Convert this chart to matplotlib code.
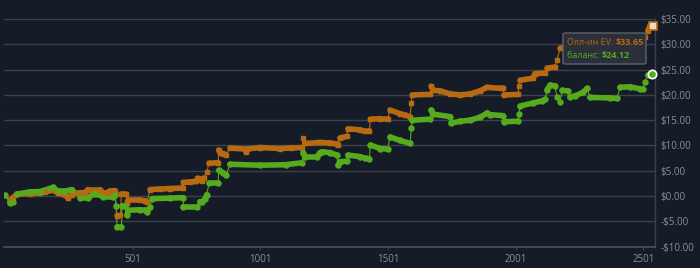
import matplotlib
matplotlib.use('Agg')
import matplotlib.pyplot as plt
from matplotlib.collections import LineCollection
import numpy as np

BG = '#161c27'
GRID = '#3a414c'
TXT = '#8a9099'
ORANGE = '#b86a12'
GREEN = '#55aa1e'

# all-in EV (orange)
ev_hands = [1, 20, 32, 48, 99, 138, 157, 189, 208, 236, 247, 263, 275, 314, 326, 373, 385, 404, 412, 432,
            436, 440, 453, 457, 475, 479, 483, 530, 549, 557, 569, 608, 647, 698, 700, 725, 750, 755, 764, 772,
            780, 791, 800, 836, 838, 843, 855, 867, 882, 941, 945, 950, 1000, 1078, 1120, 1165, 1168, 1176, 1235, 1274,
            1301, 1305, 1313, 1340, 1344, 1391, 1411, 1428, 1432, 1470, 1500, 1509, 1548, 1568, 1588, 1592, 1596, 1666, 1670, 1678,
            1705, 1745, 1784, 1823, 1862, 1889, 1940, 1952, 1955, 2011, 2014, 2018, 2069, 2077, 2116, 2124, 2155, 2163, 2175, 2230,
            2300, 2400, 2480, 2507, 2519, 2527, 2539]
ev_vals = [0.2, -0.8, -0.3, 0.4, 0.5, 0.6, 0.8, 1.2, 0.6, 0.2, -0.3, 0.3, 0.6, 0.7, 1.3, 1.3, 0.6, 0.7, 1.0, 1.1,
           -2.0, -3.9, -3.8, 0.4, 0.4, -1.4, -0.8, -0.8, -0.9, -1.2, 1.3, 1.4, 1.5, 1.6, 2.7, 2.8, 2.9, 3.5, 3.4, 3.0,
           3.6, 4.7, 6.5, 6.6, 9.1, 8.6, 8.4, 8.2, 9.5, 9.3, 8.8, 9.3, 9.6, 9.4, 9.5, 9.6, 11.5, 10.4, 10.6, 10.5,
           10.3, 10.1, 11.5, 11.8, 13.3, 13.1, 12.8, 12.9, 15.2, 15.3, 15.3, 17.0, 16.3, 16.0, 15.7, 18.4, 20.0, 20.1, 21.7, 20.9,
           20.8, 20.2, 20.0, 20.2, 20.8, 21.5, 21.3, 21.3, 20.0, 20.1, 21.7, 22.9, 23.3, 24.2, 24.3, 25.3, 25.5, 26.9, 29.2, 29.8,
           30.2, 30.8, 31.2, 31.4, 32.7, 33.6, 33.65]

# balance (green)
bal_hands = [1, 20, 32, 48, 99, 138, 189, 208, 236, 263, 294, 326, 353, 385, 424, 432, 436, 440, 457, 459,
             470, 479, 483, 530, 549, 557, 569, 577, 647, 698, 700, 753, 764, 772, 785, 791, 800, 836, 838, 855,
             867, 882, 1000, 1100, 1165, 1168, 1176, 1223, 1235, 1243, 1274, 1301, 1305, 1313, 1340, 1344, 1391, 1411, 1428, 1432,
             1470, 1500, 1509, 1548, 1588, 1592, 1596, 1666, 1670, 1678, 1745, 1748, 1784, 1823, 1862, 1889, 1901, 1952, 1955, 2011,
             2014, 2018, 2069, 2104, 2116, 2124, 2136, 2155, 2163, 2175, 2183, 2206, 2214, 2234, 2265, 2281, 2292, 2371, 2398, 2410,
             2449, 2488, 2500, 2507, 2519, 2535]
bal_vals = [0.2, -1.3, -1.2, 0.4, 0.85, 0.9, 1.7, 1.0, 1.0, 1.3, -0.3, -0.3, 0.5, -0.1, -0.1, 0.3, -2.0, -6.1, -6.1, -2.0,
            -2.0, -3.75, -2.8, -2.7, -2.8, -3.1, -2.2, -0.5, -0.4, -0.3, -2.1, -2.1, -1.1, -1.2, -0.5, 0.3, 2.5, 2.5, 5.1, 4.6,
            4.1, 6.3, 6.1, 6.2, 6.6, 8.6, 7.8, 7.8, 8.6, 8.75, 8.6, 8.1, 6.1, 6.8, 6.9, 8.1, 7.8, 7.5, 7.4, 10.1,
            9.4, 9.3, 11.7, 11.0, 10.4, 13.4, 15.0, 15.2, 17.0, 16.2, 15.7, 14.4, 14.8, 15.0, 15.6, 16.4, 16.1, 15.9, 14.7, 14.8,
            16.3, 17.8, 18.4, 18.8, 19.1, 21.0, 21.9, 21.8, 19.6, 18.6, 20.9, 20.8, 19.6, 19.8, 20.5, 21.3, 19.5, 19.4, 19.3, 21.5,
            21.6, 21.2, 21.1, 22.6, 23.9, 24.12]

y_ticks = [-10, -5, 0, 5, 10, 15, 20, 25, 30, 35]
x_ticks = [501, 1001, 1501, 2001, 2501]

plt.rcParams['font.family'] = ['Open Sans', 'DejaVu Sans']

fig = plt.figure(figsize=(7, 2.68), dpi=100, facecolor=BG)
ax = fig.add_axes([4/700, 1-246.7/268, 651/700, 227.7/268], facecolor=BG)


def draw_series(hands, vals, color, marker, ms):
    x = np.array(hands, dtype=float)
    y = np.array(vals, dtype=float)
    pts = np.column_stack([x, y]).reshape(-1, 1, 2)
    segs = np.concatenate([pts[:-1], pts[1:]], axis=1)
    # flat stretches look thick (dense markers), jumps are thin connectors
    widths = [4.0 if abs(b - a) < 1.0 else 0.8 for a, b in zip(y[:-1], y[1:])]
    ax.add_collection(LineCollection(segs, colors=color, linewidths=widths, zorder=3, capstyle='round'))
    ax.plot(x, y, linestyle='none', marker=marker, ms=ms, color=color, zorder=4)


draw_series(ev_hands, ev_vals, ORANGE, 's', 3.5)
draw_series(bal_hands, bal_vals, GREEN, 'o', 3.6)

# hovered end points
ax.plot(ev_hands[-1], ev_vals[-1], marker='s', ms=6, mfc='#e9dcc8', mec=ORANGE, mew=1.2, zorder=6, clip_on=False)
ax.plot(bal_hands[-1], bal_vals[-1], marker='o', ms=6, mfc=GREEN, mec='white', mew=1.2, zorder=6, clip_on=False)

ax.set_xlim(-3, 2547)
ax.set_ylim(-10, 35)
ax.set_yticks(y_ticks)
ax.set_yticklabels(['-$%.2f' % -v if v < 0 else '$%.2f' % v for v in y_ticks])
ax.set_xticks(x_ticks)
ax.set_xticklabels([str(t) for t in x_ticks])
ax.yaxis.tick_right()
ax.tick_params(axis='y', length=0, pad=4, labelsize=7, labelcolor=TXT)
ax.tick_params(axis='x', length=2.5, width=0.8, color=GRID, pad=3, labelsize=7, labelcolor=TXT)
ax.grid(axis='y', color=GRID, linewidth=1)
for s in ['top', 'left']:
    ax.spines[s].set_visible(False)
ax.spines['bottom'].set_color('#4a515c')
ax.spines['bottom'].set_linewidth(1.2)
ax.spines['right'].set_color(GRID)
ax.spines['right'].set_linewidth(1)

# tooltip
fig.patches.append(matplotlib.patches.FancyBboxPatch(
    (563/700, 1-64/268), 83/700, 31/268, boxstyle='round,pad=0,rounding_size=0.004',
    transform=fig.transFigure, facecolor='#2a2f3a', edgecolor='#5b606a', linewidth=1, zorder=10))
t1 = fig.text(567/700, 1-42.5/268, 'Олл-ин EV: ', color=ORANGE, fontsize=6.5, va='center', zorder=11)
fig.canvas.draw()
bb = t1.get_window_extent()
fig.text(bb.x1/700, 1-42.5/268, '$33.65', color=ORANGE, fontsize=6.5, fontweight='bold', va='center', zorder=11)
t2 = fig.text(567/700, 1-55.5/268, 'баланс: ', color=GREEN, fontsize=6.5, va='center', zorder=11)
bb = t2.get_window_extent()
fig.text(bb.x1/700, 1-55.5/268, '$24.12', color=GREEN, fontsize=6.5, fontweight='bold', va='center', zorder=11)

fig.savefig('out.png', dpi=100, facecolor=BG)
